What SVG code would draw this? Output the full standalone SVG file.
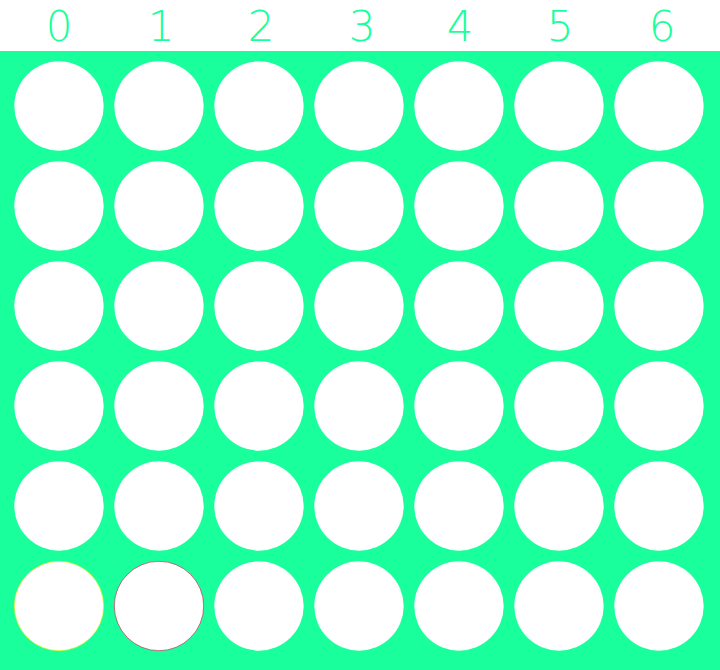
<svg xmlns="http://www.w3.org/2000/svg" width="720" height="670" viewBox="0 0 720 670">
<style>
.lbl{font-family:"DejaVu Sans","Noto Sans",sans-serif;font-weight:200;font-size:42px;fill:#19ff9c;text-anchor:middle}
.hole{fill:#ffffff}
</style>
<defs>
<circle id="h" r="44.7" class="hole"/>
</defs>
<rect width="720" height="670" fill="#ffffff"/>
<g id="labels">
<text class="lbl" x="59" y="41">0</text>
<text class="lbl" x="161" y="41">1</text>
<text class="lbl" x="261" y="41">2</text>
<text class="lbl" x="362" y="41">3</text>
<text class="lbl" x="460" y="41">4</text>
<text class="lbl" x="560" y="41">5</text>
<text class="lbl" x="662" y="41">6</text>
</g>
<g id="board">
<rect x="0" y="51" width="720" height="619" fill="#19ff9c"/>
<g id="holes">
<use href="#h" x="59" y="106"/><use href="#h" x="159" y="106"/><use href="#h" x="259" y="106"/><use href="#h" x="359" y="106"/><use href="#h" x="459" y="106"/><use href="#h" x="559" y="106"/><use href="#h" x="659" y="106"/>
<use href="#h" x="59" y="206"/><use href="#h" x="159" y="206"/><use href="#h" x="259" y="206"/><use href="#h" x="359" y="206"/><use href="#h" x="459" y="206"/><use href="#h" x="559" y="206"/><use href="#h" x="659" y="206"/>
<use href="#h" x="59" y="306"/><use href="#h" x="159" y="306"/><use href="#h" x="259" y="306"/><use href="#h" x="359" y="306"/><use href="#h" x="459" y="306"/><use href="#h" x="559" y="306"/><use href="#h" x="659" y="306"/>
<use href="#h" x="59" y="406"/><use href="#h" x="159" y="406"/><use href="#h" x="259" y="406"/><use href="#h" x="359" y="406"/><use href="#h" x="459" y="406"/><use href="#h" x="559" y="406"/><use href="#h" x="659" y="406"/>
<use href="#h" x="59" y="506"/><use href="#h" x="159" y="506"/><use href="#h" x="259" y="506"/><use href="#h" x="359" y="506"/><use href="#h" x="459" y="506"/><use href="#h" x="559" y="506"/><use href="#h" x="659" y="506"/>
<use href="#h" x="259" y="606"/><use href="#h" x="359" y="606"/><use href="#h" x="459" y="606"/><use href="#h" x="559" y="606"/><use href="#h" x="659" y="606"/>
</g>
<circle id="piece-0" cx="59" cy="606" r="44.7" fill="#ffffff" stroke="#e8f000" stroke-width="0.6"/>
<circle id="piece-1" cx="159" cy="606" r="44.7" fill="#ffffff" stroke="#d0104a" stroke-width="0.6"/>
</g>
</svg>
